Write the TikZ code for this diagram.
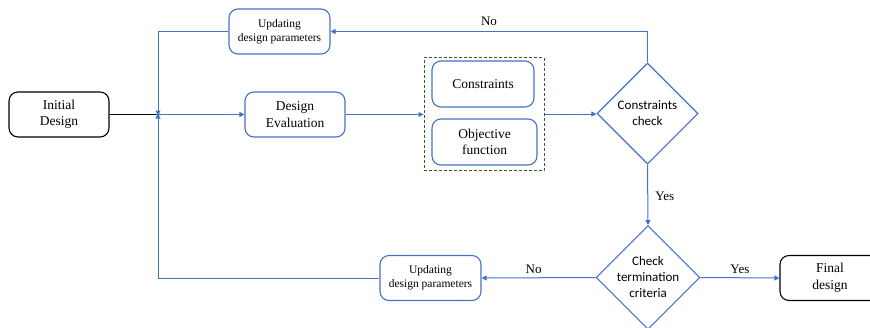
\documentclass[tikz,border=0pt]{standalone}
\usepackage{fontspec}
\setmainfont{Liberation Serif}
\newfontfamily\calib{Carlito}
\usetikzlibrary{shapes.geometric,arrows.meta}
\definecolor{flowblue}{RGB}{68,114,196}
\definecolor{boxgreen}{RGB}{56,87,35}
\begin{document}
\begin{tikzpicture}[x=1pt,y=-1pt,
  blk/.style={draw=flowblue,line width=1.1pt,rounded corners=9pt,align=center,
    minimum width=#1,minimum height=45pt,inner sep=0pt,font=\rmfamily\fontsize{13.5}{16.5}\selectfont},
  blk/.default=100pt,
  blkk/.style={blk,draw=black},
  upd/.style={blk=101pt,font=\rmfamily\fontsize{11.5}{14}\selectfont},
  dec/.style={diamond,draw=flowblue,line width=1.1pt,align=center,aspect=1,
    minimum width=101pt,minimum height=101pt,inner sep=0pt,font=\calib\fontsize{13}{16}\selectfont},
  flow/.style={draw=flowblue,line width=1pt,-{Triangle[length=5pt,width=5pt]}},
  lbl/.style={font=\rmfamily\fontsize{13}{16}\selectfont,inner sep=0pt}]
\useasboundingbox (0,0) rectangle (870,327);

\node[blkk] (init) at (59,114.5) {Initial\\Design};
\node[blk] (eval) at (295,114.5) {Design\\Evaluation};
\node[upd] (updtop) at (279.5,31.5) {Updating\\design parameters};
\node[draw=boxgreen,dashed,dash pattern=on 3pt off 2pt,line width=1pt,minimum width=120pt,minimum height=113pt,inner sep=0pt] (group) at (484,114) {};
\node[blk=102pt,minimum height=46pt] (cons) at (483,84) {Constraints};
\node[blk=105pt,minimum height=46pt] (obj) at (484.5,142) {Objective\\function};
\node[dec] (ccheck) at (647.5,113.5) {Constraints\\check};
\node[dec] (tcheck) at (648,277.5) {Check\\termination\\criteria};
\node[upd] (updbot) at (430.5,278) {Updating\\design parameters};
\node[blkk] (final) at (830,278) {Final\\design};
\coordinate (junc) at (158,114.5);

\draw[line width=1.1pt] (init.east) -- (junc);
\fill[flowblue] (junc) circle (1.8pt);
\draw[flow] (junc) -- (eval.west);
\draw[flow] (eval.east) -- (eval.east -| group.west);
\draw[flow] (group.east) -- (group.east -| ccheck.west);

\draw[flow] (ccheck.north) |- (updtop.east) node[lbl,pos=0.75,above=5pt] {No};
\draw[flow] (updtop.west) -| ([yshift=-1pt]junc);

\draw[flow] (ccheck.south) -- (tcheck.north) node[lbl,midway,right=7pt,yshift=-1pt] {Yes};
\draw[flow] (tcheck.east) -- (final.west) node[lbl,midway,above=4pt] {Yes};
\draw[flow] (tcheck.west) -- (updbot.east) node[lbl,midway,above=4pt,xshift=-5pt] {No};
\draw[flow] (updbot.west) -| ([yshift=1pt]junc);
\end{tikzpicture}
\end{document}
